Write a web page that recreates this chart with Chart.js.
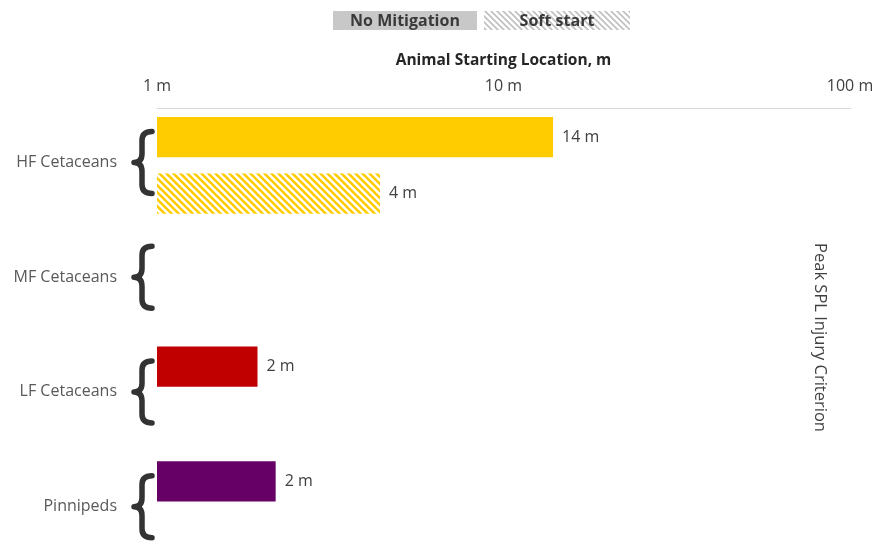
<!DOCTYPE html>
<html>
<head>
<meta charset="utf-8">
<script src="https://cdn.jsdelivr.net/npm/chart.js@4/dist/chart.umd.min.js"></script>
<style>
  html, body { margin: 0; padding: 0; background: #fff; overflow: hidden; }
</style>
</head>
<body>
<canvas id="injuryChart" width="874" height="600"></canvas>
<script>
  // chart data
  const categories = ["HF Cetaceans", "MF Cetaceans", "LF Cetaceans", "Pinnipeds"];
  const noMitigation = [13.9, null, 1.95, 2.2];
  const softStart = [4.4, null, null, null];
  const groupColors = ["#FFCC00", "#0070C0", "#C00000", "#660066"];
  const tickValues = [1, 10, 100];
  const seriesNames = ["No Mitigation", "Soft start"];

  const FONT = "'Open Sans', 'Noto Sans', sans-serif";

  function makeHatch(color, size, width) {
    const c = document.createElement("canvas");
    c.width = size; c.height = size;
    const g = c.getContext("2d");
    g.fillStyle = "#fff";
    g.fillRect(0, 0, size, size);
    g.strokeStyle = color;
    g.lineWidth = width;
    g.beginPath();
    g.moveTo(-size, -size); g.lineTo(size * 2, size * 2);
    g.moveTo(-size, 0); g.lineTo(size, size * 2);
    g.moveTo(0, -size); g.lineTo(size * 2, size);
    g.stroke();
    return g.createPattern(c, "repeat");
  }

  const ctx = document.getElementById("injuryChart").getContext("2d");
  const hatchFills = groupColors.map(c => makeHatch(c, 7, 2.6));

  // legend boxes drawn on top
  const legendBoxes = {
    id: "legendBoxes",
    afterDraw(chart) {
      const g = chart.ctx;
      g.save();
      g.fillStyle = "#C8C8C8";
      g.fillRect(333, 11, 144, 19);
      g.fillStyle = makeHatch("#BFBFBF", 6, 1.6);
      g.fillRect(484, 11, 146, 19);
      g.fillStyle = "#3A3A3A";
      g.font = "bold 16px " + FONT;
      g.textAlign = "center";
      g.textBaseline = "middle";
      g.fillText(seriesNames[0], 405, 21);
      g.fillText(seriesNames[1], 557, 21);
      g.restore();
    }
  };

  // braces, value labels and side note
  const extras = {
    id: "extras",
    afterDraw(chart) {
      const g = chart.ctx;
      const ys = chart.scales.y;
      const area = chart.chartArea;
      g.save();

      // braces beside every category
      g.strokeStyle = "#333333";
      g.lineWidth = 5.5;
      g.lineCap = "round";
      g.lineJoin = "round";
      categories.forEach((c, i) => {
        const ym = ys.getPixelForTick(i) - 3;
        const yt = ym - 31, yb = ym + 31;
        const x0 = 134, xm = 142, x1 = 152;
        g.beginPath();
        g.moveTo(x1, yt);
        g.quadraticCurveTo(xm, yt, xm, yt + 9);
        g.lineTo(xm, ym - 9);
        g.quadraticCurveTo(xm, ym, x0, ym);
        g.quadraticCurveTo(xm, ym, xm, ym + 9);
        g.lineTo(xm, yb - 9);
        g.quadraticCurveTo(xm, yb, x1, yb);
        g.stroke();
      });

      // value labels
      g.fillStyle = "#404040";
      g.font = "16px " + FONT;
      g.textAlign = "left";
      g.textBaseline = "middle";
      chart.data.datasets.forEach((ds, di) => {
        const meta = chart.getDatasetMeta(di);
        meta.data.forEach((bar, i) => {
          const v = ds.data[i];
          if (v == null) return;
          g.fillText(Math.round(v) + " m", bar.x + 9, bar.y);
        });
      });

      // rotated side note
      g.translate(820, (area.top + area.bottom) / 2);
      g.rotate(Math.PI / 2);
      g.textAlign = "center";
      g.font = "16.5px " + FONT;
      g.fillText("Peak SPL Injury Criterion", 0, 0);
      g.restore();
    }
  };

  new Chart(ctx, {
    type: "bar",
    data: {
      labels: categories,
      datasets: [
        {
          label: seriesNames[0],
          data: noMitigation,
          backgroundColor: groupColors,
          borderWidth: 0,
          categoryPercentage: 0.987,
          barPercentage: 0.71
        },
        {
          label: seriesNames[1],
          data: softStart,
          backgroundColor: hatchFills,
          borderWidth: 0,
          categoryPercentage: 0.987,
          barPercentage: 0.71
        }
      ]
    },
    options: {
      indexAxis: "y",
      responsive: false,
      animation: false,
      layout: { padding: { top: 40, left: 10, right: 0, bottom: 33 } },
      plugins: {
        legend: { display: false },
        tooltip: { enabled: false }
      },
      scales: {
        x: {
          type: "logarithmic",
          position: "top",
          min: 1,
          max: 100,
          afterBuildTicks: axis => { axis.ticks = tickValues.map(v => ({ value: v })); },
          afterFit: axis => {
            axis.height = 68;
            axis.paddingLeft = 0;
            axis.paddingRight = 24;
          },
          grid: { display: false, drawTicks: false },
          border: { display: true, color: "#D9D9D9", width: 1 },
          ticks: {
            padding: 12,
            color: "#404040",
            font: { family: FONT, size: 16 },
            maxRotation: 0,
            autoSkip: false,
            callback: v => v + " m"
          },
          title: {
            display: true,
            text: "Animal Starting Location, m",
            color: "#262626",
            font: { family: FONT, size: 15.5, weight: "bold" },
            padding: { top: 11, bottom: 4 }
          }
        },
        y: {
          grid: { display: false, drawTicks: false },
          border: { display: false },
          afterFit: axis => {
            axis.width = 147;
            axis.paddingTop = 0;
            axis.paddingBottom = 0;
          },
          ticks: {
            padding: 40,
            labelOffset: -3,
            color: "#595959",
            font: { family: FONT, size: 16 }
          }
        }
      }
    },
    plugins: [legendBoxes, extras]
  });
</script>
</body>
</html>
